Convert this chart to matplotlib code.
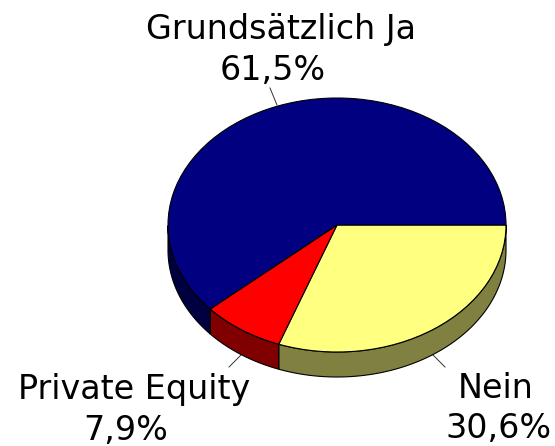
import numpy as np
import matplotlib
matplotlib.use('Agg')
import matplotlib.pyplot as plt
from matplotlib.colors import to_rgb

labels = ['Nein', 'Private Equity', 'Grundsätzlich Ja']
values = [30.6, 7.9, 61.5]
value_labels = ['30,6%', '7,9%', '61,5%']
colors = ['#FFFF80', '#FF0000', '#000080']

W, H = 555, 446
cx, cy, rx, ry, depth = 337, 225, 169, 127, 25
plt.rcParams['font.family'] = ['DejaVu Sans']
fig = plt.figure(figsize=(W/100, H/100), dpi=100)
ax = fig.add_axes([0, 0, 1, 1])
d = depth / ry

def dark(c):
    return tuple(0.5 * v for v in to_rgb(c))

# side wall
edges = 360 * np.cumsum([0] + values) / sum(values)
for i in range(len(values)):
    a0, a1 = -np.radians(edges[i]), -np.radians(edges[i+1])
    t = np.linspace(a0, a1, 200)
    t = t[(np.sin(t) <= 0)]
    if len(t) < 2:
        continue
    x = np.cos(t); y = np.sin(t)
    ax.fill(np.r_[x, x[::-1]], np.r_[y, y[::-1] - d], facecolor=dark(colors[i]),
            edgecolor='black', linewidth=0.8, zorder=1)

ax.pie(values, colors=colors, startangle=0, counterclock=False, radius=1,
       center=(0, 0), wedgeprops=dict(edgecolor='black', linewidth=0.8, zorder=2))
ax.set_aspect('auto')
ax.set_xlim(-cx/rx, (W-cx)/rx)
ax.set_ylim((cy-H)/ry, cy/ry)
ax.axis('off')

def px(x, y):
    return (x-cx)/rx, (cy-y)/ry

# leader lines
for (p0, p1) in [((270, 88), (277, 105)), ((241, 355), (229, 367)), ((433, 355), (445, 367))]:
    a, b = px(*p0), px(*p1)
    ax.plot([a[0], b[0]], [a[1], b[1]], color='#333333', lw=0.7, zorder=0)

fs = 24
pos = {0: (496, 389, 498, 429), 1: (134, 390, 126, 430), 2: (281, 29, 273, 71)}
for i, (x1, y1, x2, y2) in pos.items():
    ax.text(*px(x1, y1), labels[i], ha='center', va='center', fontsize=fs, color='black')
    ax.text(*px(x2, y2), value_labels[i], ha='center', va='center', fontsize=fs, color='black')

fig.savefig('out.png', dpi=100)
